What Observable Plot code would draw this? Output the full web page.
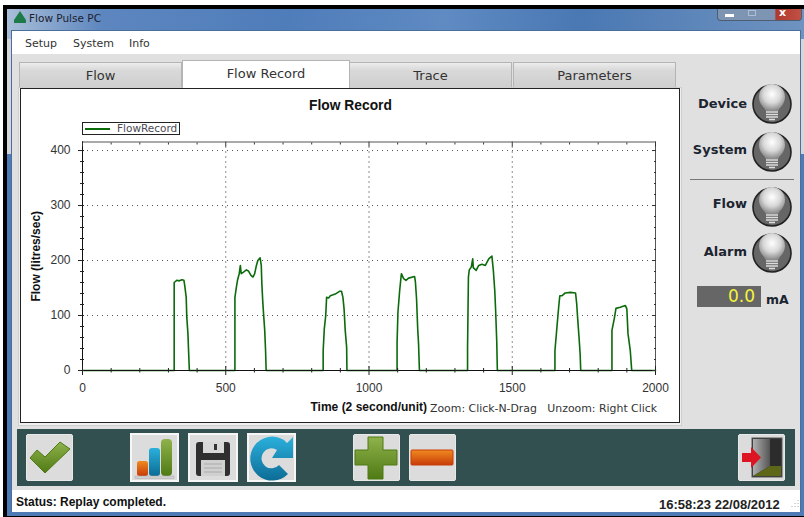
<!DOCTYPE html>
<html><head><meta charset="utf-8">
<script src="https://cdn.jsdelivr.net/npm/d3@7"></script>
<script src="https://cdn.jsdelivr.net/npm/@observablehq/plot@0.6"></script>
<style>
html,body{margin:0;padding:0;background:#fff;width:804px;height:517px;overflow:hidden}
#win{position:absolute;left:0;top:0;width:804px;height:517px;font-family:"DejaVu Sans",sans-serif;color:#222}
#win div,#win svg.ic{position:absolute;box-sizing:border-box}
.tab{top:62px;height:25px;background:linear-gradient(#ececec 0%,#d9d9d9 30%,#cfcfcf 100%);border:1px solid #b4b4b4;border-bottom:none;text-align:center;font-size:13px;line-height:25px;color:#333}
.lbl{font-weight:700;font-size:13px;text-align:right;width:70px;left:677px;color:#1c2430}
.btn{background:#dcdcdc;border-radius:2px;border:1px solid #e8e8e8}
.btnw{background:#dcdcdc;border:2px solid #f6f6f6}
#plot{left:0;top:0;width:804px;height:517px}
#plot svg{background:transparent;position:absolute;left:0;top:0;max-width:none!important}
</style></head><body>
<div id="win">
 <div style="left:3px;top:5px;width:801px;height:512px;background:#000"></div>
 <div style="left:7px;top:9px;width:797px;height:507px;background:linear-gradient(180deg,rgba(79,125,186,0) 0,rgba(79,125,186,0) 30px,#d4d6da 30px,#d4d6da 145px,#4f7ab5 145px),linear-gradient(90deg,#a9bed8 0,#5d86bf 12%,#4f7dba 35%,#5f8ac2 55%,#4a78b3 72%,#6f93c0 100%)"></div>
 <div style="left:11px;top:30px;width:790px;height:482px;background:#e0e0e0;border:1px solid #4a6f9c;border-bottom:none"></div>
 <div style="left:12px;top:31px;width:788px;height:23px;background:#fff"></div>
 <div style="left:14px;top:11px;width:12px;height:12px;background:#1f7a4a;clip-path:polygon(50% 0,100% 75%,100% 100%,0 100%,0 75%)"></div>
 <div style="left:29px;top:10px;font-size:10.5px;line-height:16px;color:#1a2230;white-space:nowrap">Flow Pulse PC</div>
 <div style="left:717px;top:9px;width:85px;height:12px;border-radius:0 0 4px 4px;background:linear-gradient(90deg,#7d94b3 0,#7d94b3 68%,#b0392e 70%,#c25044 100%);border:1px solid #4e5d72;border-top:none"></div>
 <div style="left:725px;top:14px;width:9px;height:3px;background:#fff"></div>
 <div style="left:748px;top:10px;width:8px;height:6px;border:1px solid #aebfd5"></div>
 <div style="left:779px;top:7px;font-size:11px;font-weight:700;color:#fff;line-height:12px">x</div>
 <div style="left:25px;top:36px;font-size:11px;line-height:16px;color:#333">Setup</div>
 <div style="left:73px;top:36px;font-size:11px;line-height:16px;color:#333">System</div>
 <div style="left:129px;top:36px;font-size:11px;line-height:16px;color:#333">Info</div>

 <div class="tab" style="left:19px;width:163px">Flow</div>
 <div class="tab" style="left:182px;top:60px;height:28px;width:168px;background:#fff;line-height:26px;z-index:2">Flow Record</div>
 <div class="tab" style="left:349px;width:163px">Trace</div>
 <div class="tab" style="left:513px;width:163px">Parameters</div>
 <div style="left:18px;top:87px;width:664px;height:339px;background:#efefef;border:1px solid #cfcfcf"></div>
 <div style="left:20px;top:88px;width:660px;height:335px;background:#fff;border:1px solid #222"></div>

 <div class="lbl" style="top:96px">Device</div>
 <div class="lbl" style="top:142px">System</div>
 <div class="lbl" style="top:196px">Flow</div>
 <div class="lbl" style="top:244px">Alarm</div>
 <div style="left:690px;top:179px;width:104px;height:1px;background:#777"></div>
 <div style="left:697px;top:286px;width:64px;height:21px;background:#666"></div>
 <div style="left:697px;top:285px;width:58px;text-align:right;font-size:17px;line-height:23px;color:#f4f43a">0.0</div>
 <div style="left:766px;top:292px;font-size:12.5px;font-weight:700;line-height:16px;color:#1c2430">mA</div>

 <div style="left:17px;top:429px;width:778px;height:57px;background:#325050"></div>
 <div style="left:12px;top:490px;width:788px;height:22px;background:#fff"></div>
 <div style="left:16px;top:494px;font-family:'Liberation Sans';font-size:12px;font-weight:700;line-height:16px;color:#111;white-space:nowrap">Status: Replay completed.</div>
 <div style="left:659px;top:497px;font-family:'Liberation Sans';font-size:13px;font-weight:700;line-height:15px;color:#222;white-space:nowrap">16:58:23 22/08/2012</div>

 <div class="btn" style="left:26px;top:434px;width:47px;height:47px"></div>
 <div class="btnw" style="left:130px;top:433px;width:49px;height:49px"></div>
 <div class="btnw" style="left:188px;top:433px;width:50px;height:49px"></div>
 <div class="btnw" style="left:247px;top:433px;width:49px;height:49px"></div>
 <div class="btn" style="left:353px;top:434px;width:47px;height:47px"></div>
 <div class="btn" style="left:409px;top:434px;width:47px;height:47px"></div>
 <div class="btn" style="left:738px;top:434px;width:47px;height:47px"></div>

 <svg class="ic" width="804" height="517" style="left:0;top:0">
  <defs>
   <radialGradient id="bulb" cx="50%" cy="38%" r="60%"><stop offset="0" stop-color="#fff"/><stop offset=".55" stop-color="#d8d8d8"/><stop offset="1" stop-color="#8c8c8c"/></radialGradient>
   <linearGradient id="gr" x1="0" y1="0" x2="0" y2="1"><stop offset="0" stop-color="#8fb24c"/><stop offset="1" stop-color="#4f7a14"/></linearGradient>
   <linearGradient id="og" x1="0" y1="0" x2="0" y2="1"><stop offset="0" stop-color="#f08a20"/><stop offset="1" stop-color="#c83c08"/></linearGradient>
   <linearGradient id="bl" x1="0" y1="0" x2="0" y2="1"><stop offset="0" stop-color="#2bb0dc"/><stop offset="1" stop-color="#0c6c96"/></linearGradient>
   <linearGradient id="dr" x1="0" y1="0" x2="1" y2="0"><stop offset="0" stop-color="#b0b0b0"/><stop offset="1" stop-color="#555"/></linearGradient>
   <g id="lamp">
    <circle r="19" fill="#666" stroke="#222" stroke-width="1.6"/>
    <path d="M-6 7C-8 3-13 0-13-7A13 13 0 0 1 13-7C13 0 8 3 6 7Z" fill="url(#bulb)"/>
    <path d="M-6 8H6M-6 10.5H6M-6 13H6" stroke="#ddd" stroke-width="1.6"/>
    <path d="M-3 15.5H3" stroke="#ddd" stroke-width="1.6"/>
   </g>
  </defs>
  <use href="#lamp" x="772" y="104"/><use href="#lamp" x="772" y="152"/><use href="#lamp" x="772" y="207"/><use href="#lamp" x="772" y="253"/>

  <path d="M30 458L37 450 45 457 60 442 70 449 45 473Z" fill="url(#gr)" stroke="#4f7a14"/>
  <rect x="137" y="461" width="11" height="15" rx="2.5" fill="url(#og)"/>
  <rect x="149" y="448" width="11" height="28" rx="3" fill="url(#bl)"/>
  <rect x="161" y="439" width="11" height="37" rx="4" fill="url(#gr)"/>
  <rect x="135" y="476" width="39" height="2.500" fill="#cfcfcf" stroke="#aaa" stroke-width=".5"/>

  <rect x="196" y="442" width="34" height="34" rx="3" fill="#2f2f2f"/>
  <rect x="203" y="442" width="21" height="11" fill="#d8d8d8"/><rect x="214" y="444" width="3" height="6" fill="#333"/>
  <rect x="201" y="460" width="24" height="16" fill="#d0d0d0"/>
  <path d="M204 464h18M204 468h18M204 472h18" stroke="#aaa"/>

  <path d="M284 440A22 22 0 1 0 288 474Q284 470 279 465A10 10 0 1 1 277 450L272 458H293V437L287 443Q285 441 284 440Z" fill="url(#bl)"/>

  <path d="M368 437h15v13h14v15h-14v14h-15v-14h-13v-15h13Z" fill="url(#gr)" stroke="#4f7a14"/>
  <rect x="411" y="450" width="42" height="15" rx="1" fill="url(#og)" stroke="#c83c08"/>

  <rect x="752" y="438" width="30" height="39" fill="#2c2c2c" stroke="#555"/>
  <path d="M753 439H770V466L753 476Z" fill="url(#dr)"/>
  <path d="M753 476L770 466H781V476Z" fill="#5e6618"/>
  <path d="M742 453H751V447L761 457.500 751 468V462H742Z" fill="#dd1422"/>

  <path d="M792 506v1M795 503v4M798 500v7" stroke="#aab" stroke-dasharray="1 2"/>
 </svg>
 <div style="left:82px;top:122px;width:98px;height:13px;border:1px solid #222;background:#fff"></div>
 <div style="left:85px;top:128px;width:25px;height:1.5px;background:#0b6b0b"></div>
 <div style="left:117px;top:121px;font-size:10.5px;line-height:15px;color:#4a4a55;white-space:nowrap">FlowRecord</div>
 <div style="left:430px;top:402px;font-size:10.9px;line-height:14px;color:#333;white-space:pre">Zoom: Click-N-Drag   Unzoom: Right Click</div>
 <div id="plot"></div>
</div>
<script>
const time = [0,320,320,329,338,347,354,357,362,364,368,370,373,
  532,532,537,541,547,551,554,562,572,579,588,595,601,607,612,620,624,626,629,632,636,639,641,
  840,840,844,849,852,859,865,882,897,904,909,913,917,922,923,
  1098,1098,1101,1107,1113,1121,1129,1138,1159,1162,1166,1170,1173,1176,
  1344,1344,1347,1350,1357,1362,1364,1374,1383,1394,1406,1418,1429,1434,1439,1442,1446,1448,
  1649,1649,1656,1662,1666,1674,1685,1703,1721,1725,1728,1733,1737,1739,
  1848,1848,1856,1862,1877,1895,1900,1904,1912,1917,2000];
const flow = [0,0,160,164,163,165,164,154,133,97,67,39,0,
  0,133,151,164,176,191,176,179,183,181,173,170,176,191,200,205,191,158,127,103,73,36,0,
  0,36,76,100,133,132,136,139,144,144,133,112,73,42,0,
  0,51,106,145,176,167,164,168,171,161,130,76,48,0,
  0,42,170,183,188,203,187,182,191,193,191,203,208,182,145,109,51,0,
  0,36,79,115,136,136,141,142,141,121,97,61,30,0,
  0,73,94,113,115,118,112,67,36,0,0];
const xMajor = [0,500,1000,1500,2000];
const xMinor = [100,200,300,400,600,700,800,900,1100,1200,1300,1400,1600,1700,1800,1900];
const yMajor = [0,100,200,300,400];
const yMinor = [20,40,60,80,120,140,160,180,220,240,260,280,320,340,360,380];
const yTop = 415.5;
const rows = time.map((t,i)=>({t,f:flow[i]}));
const plain = d => String(d);
const chart = Plot.plot({
  width:804,height:517,
  marginLeft:82,marginRight:149,marginTop:141.5,marginBottom:147,
  x:{domain:[0,2000],label:null},
  y:{domain:[0,yTop],label:null},
  style:{background:"transparent",fontFamily:"'Liberation Sans',sans-serif",fontSize:"12px",color:"#333",maxWidth:"none"},
  marks:[
    Plot.gridX(xMajor,{stroke:"#222",strokeDasharray:"1 4",strokeOpacity:1}),
    Plot.gridY(yMajor,{stroke:"#555",strokeDasharray:"1 4",strokeOpacity:1}),
    Plot.ruleY([yTop],{stroke:"#555"}),
    Plot.ruleX([2000],{stroke:"#555"}),
    Plot.line(rows,{x:"t",y:"f",stroke:"#0b6b0b",strokeWidth:1.6,strokeLinejoin:"round"}),
    Plot.ruleY([0],{stroke:"#111"}),
    Plot.ruleX([0],{stroke:"#111"}),
    Plot.axisX({ticks:xMajor,anchor:"bottom",tickSize:9,dy:-4,tickPadding:8,label:null,stroke:"#222",tickFormat:plain}),
    Plot.axisX({ticks:xMinor,anchor:"bottom",tickSize:4.5,dy:-2,text:null,label:null,stroke:"#222"}),
    Plot.axisX({ticks:xMajor,anchor:"top",tickSize:4,dy:4,text:null,label:null,stroke:"#333"}),
    Plot.axisX({ticks:xMinor,anchor:"top",tickSize:2,dy:2,text:null,label:null,stroke:"#333"}),
    Plot.axisY({ticks:yMajor,anchor:"left",tickSize:6,dx:2,tickPadding:8,label:null,stroke:"#222",tickFormat:plain}),
    Plot.axisY({ticks:yMinor,anchor:"left",tickSize:4,dx:2,text:null,label:null,stroke:"#222"}),
    Plot.axisY({ticks:yMajor,anchor:"right",tickSize:4,dx:-4,text:null,label:null,stroke:"#333"}),
    Plot.axisY({ticks:yMinor,anchor:"right",tickSize:2,dx:-2,text:null,label:null,stroke:"#333"}),
    Plot.text(["Flow (litres/sec)"],{frameAnchor:"left",textAnchor:"middle",rotate:-90,dx:-46,fontWeight:700,fontSize:12,fill:"#111"}),
    Plot.text(["Flow Record"],{frameAnchor:"top-left",dx:268,dy:-42,textAnchor:"middle",fontWeight:700,fontSize:13.8,fill:"#111"}),
    Plot.text(["Time (2 second/unit)"],{frameAnchor:"bottom-left",dx:228,dy:40,textAnchor:"start",fontWeight:700,fontSize:12,fill:"#111"})
  ]
});
document.getElementById("plot").appendChild(chart);
</script>
</body></html>
